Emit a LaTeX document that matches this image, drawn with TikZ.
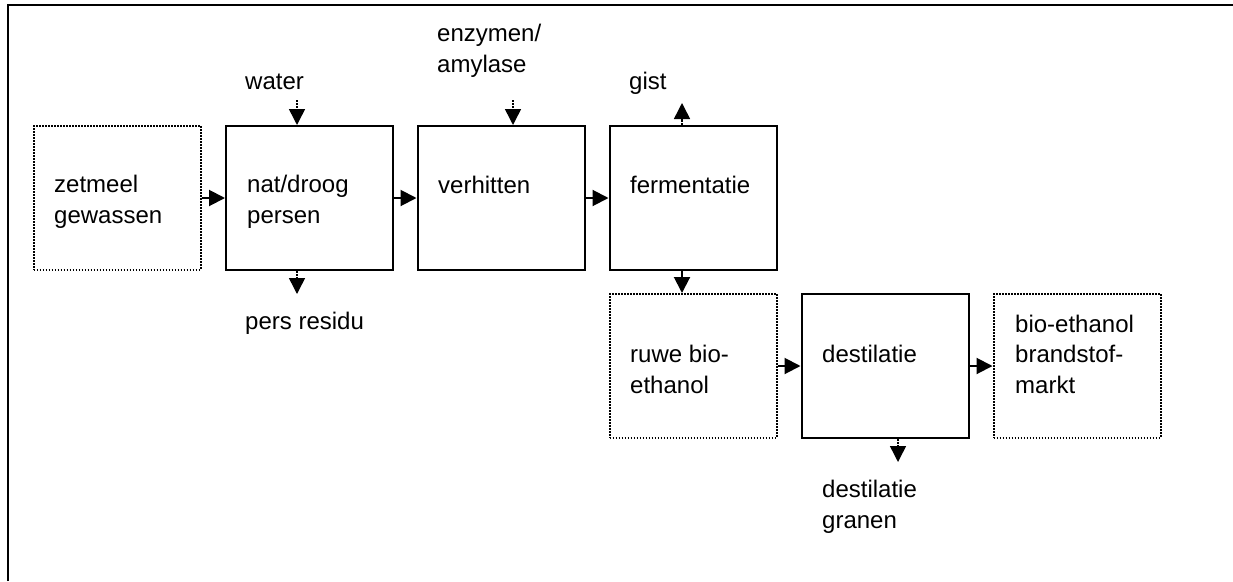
\documentclass[tikz,border=0pt]{standalone}
\usepackage{fontspec}
\setmainfont{Liberation Sans}
\usetikzlibrary{arrows.meta}
\begin{document}
\begin{tikzpicture}[x=1pt,y=-1pt,
  proc/.style={draw,line width=2pt,minimum width=167pt,minimum height=144pt,inner sep=0pt},
  ext/.style={draw,line width=2pt,dash pattern=on 1.6pt off 1.4pt,minimum width=167pt,minimum height=144pt,inner sep=0pt},
  lbl/.style={anchor=base west,inner sep=0pt,align=left,font=\fontsize{24}{30.5}\selectfont},
  flow/.style={line width=2pt,-{Triangle[length=16pt,width=16pt]}},
  side/.style={line width=1.5pt,dash pattern=on 1.6pt off 1.4pt,-{Triangle[length=16pt,width=16pt]}}]
\useasboundingbox (0,0) rectangle (1233,581);
% frame
\draw[line width=2pt] (8,581) -- (8,5) -- (1233,5);
% boxes
\node[ext]  (zet) at (117,198) {};
\node[proc] (nat) at (309.5,198) {};
\node[proc] (ver) at (501,198) {};
\node[proc] (fer) at (693,198) {};
\node[ext]  (ruw) at (693,366) {};
\node[proc] (des) at (885,366) {};
\node[ext]  (bio) at (1077,366) {};
% texts in boxes (base = baseline of last line)
\node[lbl] (tzet) at (54,223) {zetmeel\\gewassen};
\node[lbl] (tnat) at (247,223) {nat/droog\\persen};
\node[lbl] (tver) at (438,193) {verhitten};
\node[lbl] (tfer) at (630,193) {fermentatie};
\node[lbl] (truw) at (630,393) {ruwe bio-\\ethanol};
\node[lbl] (tdes) at (822,362) {destilatie};
\node[lbl] (tbio) at (1015,393) {bio-ethanol\\brandstof-\\markt};
% side labels
\node[lbl] (water) at (245,89) {water};
\node[lbl] (enz) at (437,72) {enzymen/\\amylase};
\node[lbl] (gist) at (629,89) {gist};
\node[lbl] (pers) at (245,329) {pers residu};
\node[lbl] (gran) at (822,528) {destilatie\\granen};
% main flow
\draw[flow] (zet.east) -- (nat.west);
\draw[flow] (nat.east) -- (ver.west);
\draw[flow] (ver.east) -- (fer.west);
\draw[flow] (fer.south -| 682,0) -- (ruw.north -| 682,0);
\draw[flow] (ruw.east) -- (des.west);
\draw[flow] (des.east) -- (bio.west);
% side flows
\coordinate (cw) at (297,100);
\coordinate (ce) at (513,100);
\coordinate (cg) at (682,103);
\coordinate (cp) at (297,294);
\coordinate (cd) at (898,462);
\draw[side] (cw) -- (cw |- nat.north);
\draw[side] (ce) -- (ce |- ver.north);
\draw[side] (cg |- fer.north) -- (cg);
\draw[side] (cp |- nat.south) -- (cp);
\draw[side] (cd |- des.south) -- (cd);
\end{tikzpicture}
\end{document}
